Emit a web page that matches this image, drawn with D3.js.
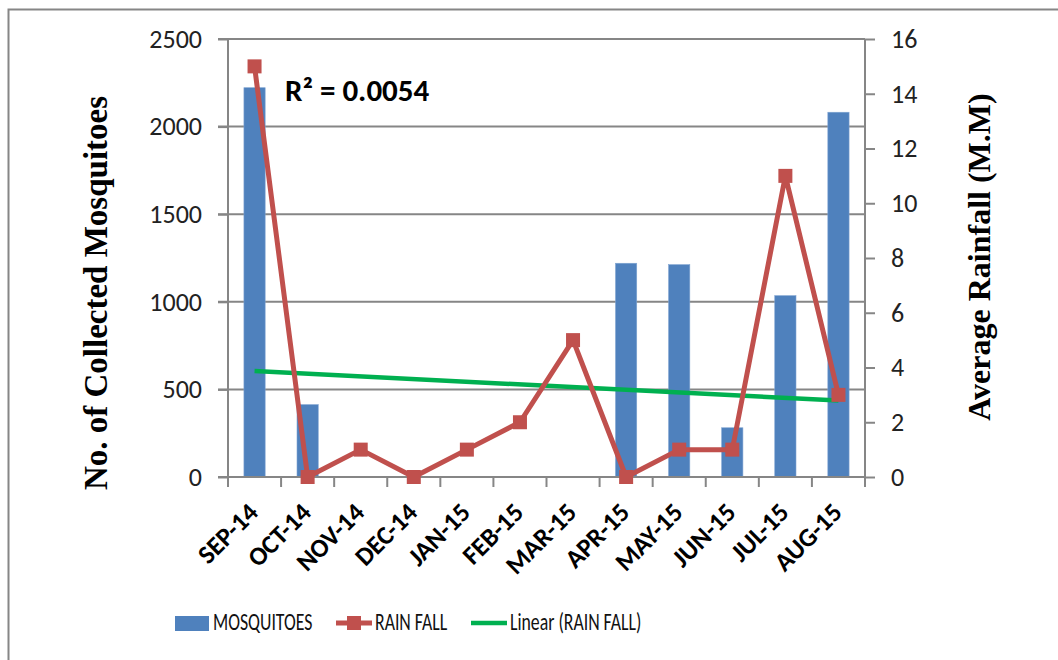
<!DOCTYPE html>
<html>
<head>
<meta charset="utf-8">
<script src="https://cdn.jsdelivr.net/npm/d3@7"></script>
<style>
  body { margin: 0; background: #fff; }
  svg { display: block; }
  .cal { font-family: Carlito, "Liberation Sans Narrow", "Open Sans", sans-serif; }
  .tnr { font-family: "Liberation Serif", "DejaVu Serif", serif; font-weight: bold; }
</style>
</head>
<body>
<div id="chart"></div>
<script>
var months = ["SEP-14","OCT-14","NOV-14","DEC-14","JAN-15","FEB-15","MAR-15","APR-15","MAY-15","JUN-15","JUL-15","AUG-15"];
var mosquitoes = [2222, 413, 0, 0, 0, 0, 0, 1220, 1212, 281, 1035, 2082];
var rainfall = [15, 0, 1, 0, 1, 2, 5, 0, 1, 1, 11, 3];
var leftTicks = [0, 500, 1000, 1500, 2000, 2500];
var rightTicks = [0, 2, 4, 6, 8, 10, 12, 14, 16];

var W = 1058, H = 660;
var pLeft = 228, pRight = 865, pTop = 39, pBottom = 477;
var grey = "#868686";

var svg = d3.select("#chart").append("svg")
    .attr("width", W)
    .attr("height", H);

// outer frame (right / bottom edge fall outside the picture)
svg.append("rect")
    .attr("x", 8.5).attr("y", 9.5)
    .attr("width", W + 20).attr("height", H + 20)
    .attr("fill", "none").attr("stroke", grey).attr("stroke-width", 2);

var x = d3.scaleBand()
    .domain(months)
    .range([pLeft, pRight]);

var yL = d3.scaleLinear().domain([0, 2500]).range([pBottom, pTop]);
var yR = d3.scaleLinear().domain([0, 16]).range([pBottom, pTop]);

// gridlines
svg.append("g")
  .selectAll("line")
  .data(leftTicks.slice(1))
  .enter().append("line")
    .attr("x1", pLeft - 10).attr("x2", pRight)
    .attr("y1", function(d) { return yL(d); })
    .attr("y2", function(d) { return yL(d); })
    .attr("stroke", grey).attr("stroke-width", 2);

// bars
var bw = x.step() * 0.4;
svg.append("g")
  .selectAll("rect")
  .data(mosquitoes)
  .enter().append("rect")
    .attr("x", function(d, i) { return x(months[i]) + (x.step() - bw) / 2; })
    .attr("y", function(d) { return yL(d); })
    .attr("width", bw)
    .attr("height", function(d) { return pBottom - yL(d); })
    .attr("fill", "#4F81BD")
    .attr("stroke", "#7FA3D1").attr("stroke-width", 0.6);

// left axis
var gL = svg.append("g")
    .attr("transform", "translate(" + pLeft + ",0)")
    .call(d3.axisLeft(yL).tickValues(leftTicks).tickFormat(d3.format("d")).tickSize(10).tickPadding(16));
gL.selectAll("line, path").attr("stroke", grey).attr("stroke-width", 2);
gL.select(".domain").attr("d", "M0," + pTop + "V" + pBottom);
gL.selectAll("text").attr("class", "cal").style("font-size", "26px").attr("fill", "#222");

// right axis
var gR = svg.append("g")
    .attr("transform", "translate(" + pRight + ",0)")
    .call(d3.axisRight(yR).tickValues(rightTicks).tickSize(10).tickPadding(16));
gR.selectAll("line, path").attr("stroke", grey).attr("stroke-width", 2);
gR.select(".domain").attr("d", "M0," + pTop + "V" + pBottom);
gR.selectAll("text").attr("class", "cal").style("font-size", "26px").attr("fill", "#222");

// bottom axis: labels at band centres, ticks at band edges
var gB = svg.append("g")
    .attr("transform", "translate(0," + pBottom + ")")
    .call(d3.axisBottom(x).tickSize(0).tickPadding(0));
gB.select(".domain").attr("d", "M" + (pLeft - 10) + ",0H" + pRight).attr("stroke", grey).attr("stroke-width", 2);
gB.selectAll("text")
    .attr("class", "cal")
    .style("font-size", "26px").style("font-weight", "bold").attr("fill", "#000")
    .attr("text-anchor", "end")
    .attr("dy", "0")
    .attr("transform", "translate(5,37) rotate(-45)");
svg.append("g")
  .selectAll("line")
  .data(months.concat(["end"]))
  .enter().append("line")
    .attr("x1", function(d, i) { return pLeft + i * x.step(); })
    .attr("x2", function(d, i) { return pLeft + i * x.step(); })
    .attr("y1", pBottom).attr("y2", pBottom + 10)
    .attr("stroke", grey).attr("stroke-width", 2);

// linear trend of rain fall (least squares)
var n = rainfall.length;
var xs = d3.range(1, n + 1);
var mx = d3.mean(xs), my = d3.mean(rainfall);
var sxy = d3.sum(xs, function(v, i) { return (v - mx) * (rainfall[i] - my); });
var sxx = d3.sum(xs, function(v) { return (v - mx) * (v - mx); });
var syy = d3.sum(rainfall, function(v) { return (v - my) * (v - my); });
var slope = sxy / sxx, icpt = my - slope * mx;
var r2 = sxy * sxy / (sxx * syy);

var cx = function(i) { return x(months[i]) + x.step() / 2; };

svg.append("line")
    .attr("x1", cx(0)).attr("y1", yR(icpt + slope * 1))
    .attr("x2", cx(n - 1)).attr("y2", yR(icpt + slope * n))
    .attr("stroke", "#00B050").attr("stroke-width", 4.5);

// rain fall line
svg.append("path")
    .datum(rainfall)
    .attr("fill", "none")
    .attr("stroke", "#C0504D").attr("stroke-width", 5)
    .attr("stroke-linejoin", "round")
    .attr("d", d3.line()
        .x(function(d, i) { return cx(i); })
        .y(function(d) { return yR(d); }));

svg.append("g")
  .selectAll("rect")
  .data(rainfall)
  .enter().append("rect")
    .attr("x", function(d, i) { return cx(i) - 7; })
    .attr("y", function(d) { return yR(d) - 7; })
    .attr("width", 14).attr("height", 14)
    .attr("fill", "#C0504D");

// R² label
svg.append("text")
    .attr("class", "cal")
    .attr("x", 285).attr("y", 101)
    .style("font-size", "31px").style("font-weight", "bold")
    .text("R² = " + r2.toFixed(4));

// axis titles
svg.append("text")
    .attr("class", "tnr")
    .attr("transform", "translate(107,293) rotate(-90)")
    .attr("text-anchor", "middle")
    .style("font-size", "33px")
    .text("No. of Collected Mosquitoes");

svg.append("text")
    .attr("class", "tnr")
    .attr("transform", "translate(990,257) rotate(-90)")
    .attr("text-anchor", "middle")
    .style("font-size", "32px")
    .text("Average Rainfall (M.M)");

// legend (text is tall and narrow in the reference)
var legendItems = ["MOSQUITOES", "RAIN FALL", "Linear (RAIN FALL)"];
var legendX = [213, 375, 510];
var lg = svg.append("g").attr("class", "cal").style("font-size", "25px");
lg.append("rect").attr("x", 175).attr("y", 616).attr("width", 34).attr("height", 15).attr("fill", "#4F81BD");
lg.append("line").attr("x1", 336).attr("x2", 372).attr("y1", 623).attr("y2", 623)
    .attr("stroke", "#C0504D").attr("stroke-width", 5);
lg.append("rect").attr("x", 347).attr("y", 616).attr("width", 14).attr("height", 14).attr("fill", "#C0504D");
lg.append("line").attr("x1", 471).attr("x2", 507).attr("y1", 623).attr("y2", 623)
    .attr("stroke", "#00B050").attr("stroke-width", 4.5);
lg.selectAll("text.item")
  .data(legendItems)
  .enter().append("text")
    .attr("class", "item")
    .attr("transform", function(d, i) { return "translate(" + legendX[i] + ",630) scale(0.71,1)"; })
    .attr("fill", "#111")
    .text(function(d) { return d; });
</script>
</body>
</html>
